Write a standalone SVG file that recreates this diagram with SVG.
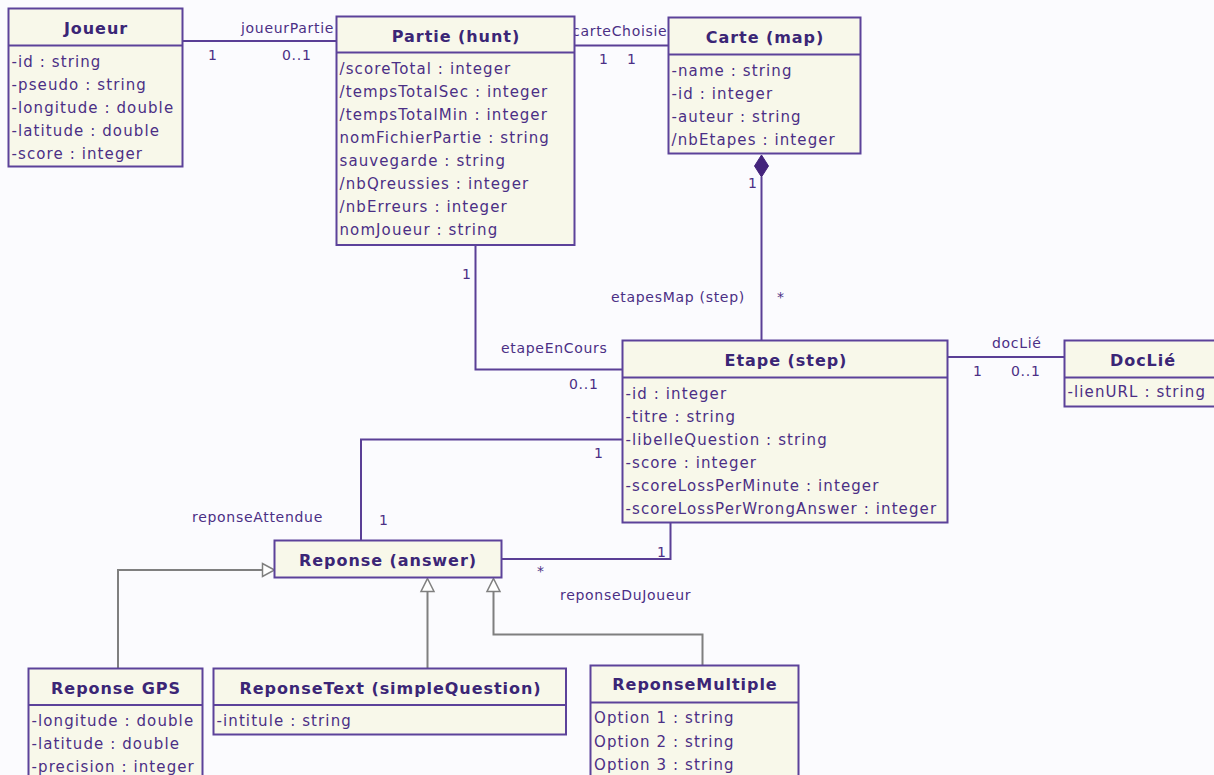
<svg xmlns="http://www.w3.org/2000/svg" width="1214" height="775" viewBox="0 0 1214 775">
  <style>
    .box { fill: #f8f8ea; stroke: #5c429a; stroke-width: 2; }
    .sep { stroke: #5c429a; stroke-width: 2; }
    .title { font-family: "DejaVu Sans", Verdana, sans-serif; font-weight: bold; font-size: 16px; letter-spacing: 0.95px; fill: #3b2676; text-anchor: middle; }
    .attr { font-family: "DejaVu Sans", Verdana, sans-serif; font-size: 15px; letter-spacing: 1.1px; fill: #4b2f85; }
    .lbl { font-family: "DejaVu Sans", Verdana, sans-serif; font-size: 14px; letter-spacing: 0.7px; fill: #4b2f85; }
    .assoc { fill: none; stroke: #5a3f96; stroke-width: 2; }
    .gen { fill: none; stroke: #7f7f7f; stroke-width: 2; }
    .tri { fill: #ffffff; stroke: #7f7f7f; stroke-width: 1.5; }
  </style>
  <rect width="1214" height="775" fill="#fbfbfe"/>

  <!-- connectors -->
  <g id="connectors">
    <!-- Joueur - Partie -->
    <path class="assoc" d="M182.5,41 H336.5"/>
    <text class="lbl" x="241" y="33">joueurPartie</text>
    <text class="lbl" x="208" y="60">1</text>
    <text class="lbl" x="282" y="60">0..1</text>
    <!-- Partie - Carte -->
    <path class="assoc" d="M574.5,45.5 H668.5"/>
    <text class="lbl" x="572" y="36">carteChoisie</text>
    <text class="lbl" x="599" y="64">1</text>
    <text class="lbl" x="627" y="64">1</text>
    <!-- Carte (composition) - Etape -->
    <path class="assoc" d="M761.5,177 V340.5"/>
    <path d="M761.5,155 L768.5,166 L761.5,177 L754.5,166 Z" fill="#44247c" stroke="#44247c" stroke-width="1"/>
    <text class="lbl" x="748" y="188">1</text>
    <text class="lbl" x="611" y="302">etapesMap (step)</text>
    <text class="lbl" x="777" y="302">*</text>
    <!-- Partie - Etape -->
    <path class="assoc" d="M475.5,245.5 V369.5 H622.5"/>
    <text class="lbl" x="462" y="279">1</text>
    <text class="lbl" x="501" y="353">etapeEnCours</text>
    <text class="lbl" x="569" y="389">0..1</text>
    <!-- Etape - DocLié -->
    <path class="assoc" d="M947.5,357 H1064.5"/>
    <text class="lbl" x="992" y="348">docLié</text>
    <text class="lbl" x="973" y="376">1</text>
    <text class="lbl" x="1011" y="376">0..1</text>
    <!-- Etape - Reponse (reponseAttendue) -->
    <path class="assoc" d="M622.5,439.5 H361 V540.5"/>
    <text class="lbl" x="594" y="458">1</text>
    <text class="lbl" x="379" y="525">1</text>
    <text class="lbl" x="192" y="522">reponseAttendue</text>
    <!-- Etape - Reponse (reponseDuJoueur) -->
    <path class="assoc" d="M670.5,522.5 V559 H501.5"/>
    <text class="lbl" x="657" y="557">1</text>
    <text class="lbl" x="537" y="576">*</text>
    <text class="lbl" x="560" y="600">reponseDuJoueur</text>
    <!-- generalizations -->
    <path class="gen" d="M118,668.5 V570 H262.5"/>
    <path class="tri" d="M274.5,570 L262.5,563.5 L262.5,576.5 Z"/>
    <path class="gen" d="M427.5,668.5 V591.5"/>
    <path class="tri" d="M427.5,578.5 L434,591.5 L421,591.5 Z"/>
    <path class="gen" d="M702.5,665.5 V634.5 H493.5 V591.5"/>
    <path class="tri" d="M493.5,578.5 L500,591.5 L487,591.5 Z"/>
  </g>

  <g id="joueur">
    <rect class="box" x="8.5" y="8.5" width="174" height="158"/>
    <line class="sep" x1="8.5" y1="45.5" x2="182.5" y2="45.5"/>
    <text class="title" x="96" y="34">Joueur</text>
    <text class="attr" x="11.5" y="67">-id : string</text>
    <text class="attr" x="11.5" y="90">-pseudo : string</text>
    <text class="attr" x="11.5" y="113">-longitude : double</text>
    <text class="attr" x="11.5" y="136">-latitude : double</text>
    <text class="attr" x="11.5" y="159">-score : integer</text>
  </g>

  <g id="partie">
    <rect class="box" x="336.5" y="16.5" width="238" height="228.5"/>
    <line class="sep" x1="336.5" y1="52.5" x2="574.5" y2="52.5"/>
    <text class="title" x="456" y="42">Partie (hunt)</text>
    <text class="attr" x="339.5" y="74">/scoreTotal : integer</text>
    <text class="attr" x="339.5" y="97">/tempsTotalSec : integer</text>
    <text class="attr" x="339.5" y="120">/tempsTotalMin : integer</text>
    <text class="attr" x="339.5" y="143">nomFichierPartie : string</text>
    <text class="attr" x="339.5" y="166">sauvegarde : string</text>
    <text class="attr" x="339.5" y="189">/nbQreussies : integer</text>
    <text class="attr" x="339.5" y="212">/nbErreurs : integer</text>
    <text class="attr" x="339.5" y="235">nomJoueur : string</text>
  </g>

  <g id="carte">
    <rect class="box" x="668.5" y="17.5" width="192" height="136"/>
    <line class="sep" x1="668.5" y1="54.5" x2="860.5" y2="54.5"/>
    <text class="title" x="765" y="43">Carte (map)</text>
    <text class="attr" x="671.5" y="76">-name : string</text>
    <text class="attr" x="671.5" y="99">-id : integer</text>
    <text class="attr" x="671.5" y="122">-auteur : string</text>
    <text class="attr" x="671.5" y="145">/nbEtapes : integer</text>
  </g>

  <g id="etape">
    <rect class="box" x="622.5" y="340.5" width="325" height="182"/>
    <line class="sep" x1="622.5" y1="377.5" x2="947.5" y2="377.5"/>
    <text class="title" x="786" y="366">Etape (step)</text>
    <text class="attr" x="625.5" y="398.5">-id : integer</text>
    <text class="attr" x="625.5" y="421.5">-titre : string</text>
    <text class="attr" x="625.5" y="444.5">-libelleQuestion : string</text>
    <text class="attr" x="625.5" y="467.5">-score : integer</text>
    <text class="attr" x="625.5" y="490.5">-scoreLossPerMinute : integer</text>
    <text class="attr" x="625.5" y="513.5">-scoreLossPerWrongAnswer : integer</text>
  </g>

  <g id="doclie">
    <rect class="box" x="1064.5" y="340.5" width="160" height="66"/>
    <line class="sep" x1="1064.5" y1="377.5" x2="1224.5" y2="377.5"/>
    <text class="title" x="1143" y="366">DocLié</text>
    <text class="attr" x="1067.5" y="397">-lienURL : string</text>
  </g>

  <g id="reponse">
    <rect class="box" x="274.5" y="540.5" width="227" height="37"/>
    <text class="title" x="388" y="566">Reponse (answer)</text>
  </g>

  <g id="reponse-gps">
    <rect class="box" x="28.5" y="668.5" width="174" height="120"/>
    <line class="sep" x1="28.5" y1="705" x2="202.5" y2="705"/>
    <text class="title" x="116" y="694">Reponse GPS</text>
    <text class="attr" x="31.5" y="726">-longitude : double</text>
    <text class="attr" x="31.5" y="749">-latitude : double</text>
    <text class="attr" x="31.5" y="772">-precision : integer</text>
  </g>

  <g id="reponse-text">
    <rect class="box" x="213.5" y="668.5" width="352.5" height="66"/>
    <line class="sep" x1="213.5" y1="705" x2="566" y2="705"/>
    <text class="title" x="390.5" y="694">ReponseText (simpleQuestion)</text>
    <text class="attr" x="216.5" y="726">-intitule : string</text>
  </g>

  <g id="reponse-multiple">
    <rect class="box" x="590.5" y="665.5" width="208" height="125"/>
    <line class="sep" x1="590.5" y1="702.5" x2="798.5" y2="702.5"/>
    <text class="title" x="695" y="690">ReponseMultiple</text>
    <text class="attr" x="594" y="723">Option 1 : string</text>
    <text class="attr" x="594" y="746.5">Option 2 : string</text>
    <text class="attr" x="594" y="770">Option 3 : string</text>
  </g>
</svg>
